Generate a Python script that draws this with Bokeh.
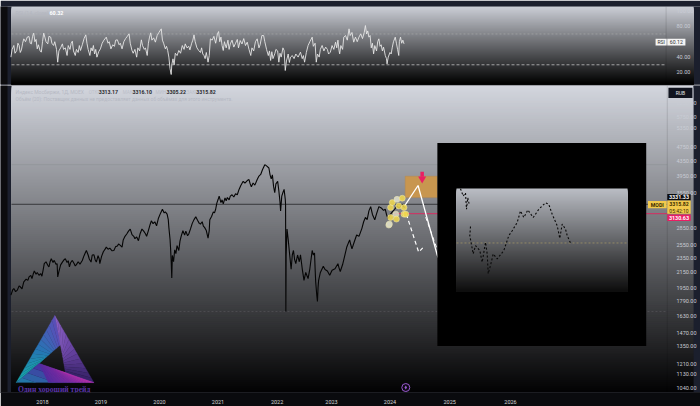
from bokeh.plotting import figure
from bokeh.layouts import column
from bokeh.models import Range1d, LinearScale, FixedTicker, NumeralTickFormatter, Label
from bokeh.embed import file_html
from bokeh.resources import INLINE
import numpy as np

# ---------- data ----------
rsi_years = [2017.46,2017.48,2017.51,2017.53,2017.56,2017.58,2017.60,2017.62,2017.64,2017.66,2017.68,2017.71,2017.74,2017.77,2017.79,2017.81,2017.83,2017.85,2017.87,2017.89,2017.91,2017.93,2017.96,2017.98,
2018.00,2018.02,2018.04,2018.06,2018.09,2018.11,2018.14,2018.16,2018.19,2018.21,2018.24,2018.26,2018.28,2018.31,2018.34,2018.36,2018.39,2018.42,2018.44,2018.47,2018.49,2018.51,2018.53,2018.56,2018.58,2018.61,2018.63,2018.65,2018.68,2018.71,2018.74,2018.76,2018.78,2018.81,2018.83,2018.85,2018.87,2018.89,2018.91,2018.93,2018.96,2018.99,
2019.02,2019.05,2019.09,2019.12,2019.14,2019.17,2019.20,2019.23,2019.25,2019.28,2019.31,2019.33,2019.36,2019.39,2019.42,2019.45,2019.48,2019.50,2019.53,2019.55,2019.58,2019.61,2019.63,2019.66,2019.69,2019.71,2019.74,2019.76,2019.79,2019.81,2019.83,2019.85,2019.87,2019.90,2019.93,2019.96,2019.99,
2020.03,2020.05,2020.07,2020.10,2020.12,2020.14,2020.16,2020.18,2020.20,2020.21,2020.23,2020.25,2020.27,2020.30,2020.33,2020.36,2020.39,2020.42,2020.44,2020.47,2020.50,2020.52,2020.55,2020.57,2020.59,2020.61,2020.64,2020.67,2020.70,2020.72,2020.74,2020.76,2020.78,2020.80,2020.83,2020.85,2020.87,2020.90,2020.93,2020.96,2020.99,
2021.01,2021.03,2021.05,2021.07,2021.09,2021.11,2021.14,2021.17,2021.19,2021.21,2021.24,2021.27,2021.30,2021.33,2021.35,2021.38,2021.41,2021.44,2021.47,2021.50,2021.53,2021.56,2021.58,2021.61,2021.64,2021.67,2021.70,2021.72,2021.75,2021.78,2021.80,2021.83,2021.86,2021.88,2021.90,2021.92,2021.94,2021.97,2021.99,
2022.02,2022.04,2022.06,2022.08,2022.11,2022.13,2022.15,2022.17,2022.20,2022.22,2022.24,2022.27,2022.30,2022.33,2022.37,2022.41,2022.44,2022.46,2022.48,2022.51,2022.54,2022.57,2022.61,2022.63,2022.66,2022.68,2022.70,2022.73,2022.75,2022.78,2022.81,2022.84,2022.87,2022.89,2022.92,2022.95,2022.98,
2023.01,2023.03,2023.05,2023.07,2023.08,2023.10,2023.13,2023.15,2023.18,2023.21,2023.24,2023.26,2023.29,2023.32,2023.35,2023.38,2023.41,2023.44,2023.47,2023.50,2023.52,2023.54,2023.56,2023.58,2023.60,2023.62,2023.64,2023.66,2023.68,2023.71,2023.73,2023.75,2023.77,2023.79,2023.81,2023.83,2023.86,2023.88,2023.89,2023.91,2023.94,2023.96,2023.98,
2024.00,2024.03,2024.05,2024.07,2024.09,2024.10,2024.12,2024.14,2024.16,2024.18]
rsi_values = [39.9,50,55.1,45,48.6,58,55.1,46,49.4,58,63.7,60,66,66.7,58,57.2,67,71.1,60,63,50.7,56,48,46.4,
60,71.1,66,60,57.2,67,65.9,58,55.1,60,50,33.4,48,52,57.2,50,52,42.1,55,50,58,60.7,48,42.1,50,46,55,48.6,56,64,68.9,58,50,42.1,52,48,55.1,44,50,39.9,47,50.7,
58,62,65.9,58,60,50.7,56,54,62,62.4,56,58,50.7,60,64,67,70.2,58,48.6,45,50,39.9,52,48,62.4,55,50,52,42.1,58,66,71.5,62,65,59.4,68,72,
76.7,62,58,50.7,54,48.6,40,25,17.4,30,37.7,30,45,42,48.6,45,55,50,57.2,52,54,49.4,58,62,68.9,60,52,48.6,46,52,44,42.1,38,46,33.4,42,63.7,62,67,58,70,
73.2,60,66,55,48.6,60,52,62,50,57.2,62,53,58,63,52,61.5,57,64,55,59.4,50,42.1,52,48,60,63.7,52,56,68,68.0,60,50,42,48,35.6,47,38,44.2,50,
48,33.4,45,40,52,48.6,22.6,35,44,33,39.9,42,38,44,40,46.4,38,42,33.4,46,55,60,65.9,54,58,33.4,44,40,50,55.1,48,53,50,44,46.4,55,50,
59.4,52,62,48,44.2,55,50,65.9,68,62,76.7,68,72,59.4,66,60,66,70.2,64,72,81,70,74,65.9,68,52,58,44.2,55,48,60,63.7,54,56,48,52.9,42,38,31.2,40,46,44,52.9,
60,65.9,58,50,42.1,60,65.9,58,62,57.2]

price_years = [2017.46,2017.49,2017.51,2017.54,2017.57,2017.60,2017.62,2017.65,2017.68,2017.72,2017.75,2017.77,2017.80,2017.82,2017.84,2017.86,2017.89,2017.91,2017.94,2017.97,2017.99,
2018.01,2018.03,2018.06,2018.09,2018.11,2018.13,2018.15,2018.18,2018.20,2018.23,2018.25,2018.26,2018.28,2018.31,2018.34,2018.37,2018.39,2018.42,2018.44,2018.46,2018.48,2018.51,2018.54,2018.56,2018.58,2018.61,2018.64,2018.68,2018.71,2018.73,2018.75,2018.78,2018.80,2018.83,2018.85,2018.88,2018.90,2018.92,2018.95,2018.97,2018.98,
2019.01,2019.04,2019.07,2019.09,2019.12,2019.15,2019.19,2019.22,2019.25,2019.28,2019.30,2019.33,2019.36,2019.38,2019.41,2019.44,2019.47,2019.50,2019.53,2019.56,2019.58,2019.61,2019.64,2019.67,2019.70,2019.73,2019.76,2019.78,2019.81,2019.84,2019.86,2019.89,2019.92,2019.95,2019.98,
2020.02,2020.05,2020.08,2020.10,2020.13,2020.15,2020.16,2020.18,2020.19,2020.20,2020.21,2020.22,2020.24,2020.26,2020.28,2020.30,2020.33,2020.35,2020.37,2020.40,2020.43,2020.45,2020.48,2020.50,2020.53,2020.56,2020.59,2020.62,2020.65,2020.68,2020.70,2020.73,2020.75,2020.77,2020.80,2020.83,2020.85,2020.86,2020.89,2020.92,2020.94,2020.96,2020.98,
2021.00,2021.02,2021.05,2021.07,2021.09,2021.12,2021.14,2021.16,2021.19,2021.21,2021.24,2021.27,2021.30,2021.33,2021.36,2021.39,2021.43,2021.46,2021.50,2021.53,2021.55,2021.57,2021.60,2021.63,2021.67,2021.70,2021.73,2021.76,2021.80,2021.83,2021.87,2021.89,2021.91,2021.93,2021.95,2021.97,2021.99,
2022.02,2022.04,2022.06,2022.07,2022.09,2022.11,2022.13,2022.15,2022.155,2022.16,2022.165,2022.18,2022.20,2022.22,2022.25,2022.27,2022.29,2022.31,2022.33,2022.36,2022.39,2022.41,2022.44,2022.47,2022.50,2022.54,2022.57,2022.61,2022.63,2022.65,2022.66,2022.67,2022.69,2022.70,2022.71,2022.72,2022.75,2022.80,2022.83,2022.87,2022.91,2022.95,
2023.00,2023.05,2023.07,2023.09,2023.13,2023.17,2023.20,2023.25,2023.27,2023.29,2023.33,2023.37,2023.41,2023.46,2023.49,2023.52,2023.55,2023.58,2023.61,2023.64,2023.68,2023.71,2023.75,2023.79,2023.83,2023.86,2023.88,2023.91,2023.94,2023.98,
2024.02,2024.06,2024.10,2024.15,2024.17,2024.19]
price_values = [1863,1925,1943,1905,1923,1975,1964,1938,2025,2060,2045,2090,2110,2068,2125,2170,2125,2150,2112,2135,2100,
2180,2272,2300,2250,2226,2300,2343,2290,2320,2265,2272,2090,2160,2255,2295,2330,2343,2290,2315,2226,2285,2319,2275,2240,2259,2300,2265,2319,2390,2430,2470,2400,2340,2295,2400,2403,2330,2295,2390,2340,2272,
2380,2450,2490,2522,2490,2505,2465,2470,2530,2540,2574,2550,2522,2640,2700,2740,2790,2827,2730,2700,2660,2690,2627,2750,2827,2790,2745,2700,2800,2910,2978,2925,2960,2886,3020,
3130,3203,3130,3150,3105,3000,2857,2650,2495,2300,2077,2393,2300,2480,2420,2547,2470,2620,2700,2797,2720,2790,2710,2740,2830,2930,3000,3053,2990,2930,2917,2960,2880,2857,2800,2670,2800,2997,3060,3150,3130,3203,3330,
3400,3480,3340,3400,3315,3440,3380,3450,3400,3480,3510,3460,3530,3510,3630,3720,3820,3780,3840,3864,3760,3690,3780,3730,3864,3950,3990,4110,4244,4210,4156,3980,3880,3980,3700,3555,3760,
3820,3600,3350,3170,3480,3560,3630,3410,3300,1680,2393,2827,2650,2450,2193,2400,2470,2330,2272,2400,2300,2403,2200,2046,2150,2068,2200,2470,2400,2431,2200,2025,1850,1790,1950,2046,2150,2236,2190,2170,2112,2180,
2200,2272,2210,2163,2260,2403,2520,2640,2560,2495,2610,2723,2700,2840,2960,3042,3000,3170,3257,3100,2997,3110,3257,3230,3180,3203,3100,3010,3090,3150,
3203,3270,3220,3305,3260,3235]

inset_index = [4,6.7,9,10,11.3,12.7,float("nan"),14,13.3,16.7,19,23.3,25.7,29,30.7,31.7,34,36.7,40.7,47.3,52.3,55.7,60.7,64,67.3,71.3,76.7,82.3,89,92.3,95.7,100.7,103.3,105.7,109,110.7,114]
inset_level = [99.7,92.6,95.8,79.8,91,84.6,float("nan"),63.1,54.2,36.5,44.5,39.7,28.5,47.7,36.5,17.3,25.3,36.5,31.7,39.7,54.2,59,67,78.2,71.8,79.2,71.8,79.8,86.2,84.6,75,63.8,51.6,65.4,60.6,54.2,47.1]

forecast_years = [2024.19,2024.42,2024.75,2025.00]
forecast_prices = [3271,3721,2393,1950]
alt_years = [2024.22,2024.43,2024.50]
alt_prices = [3105,2444,2510]
alt2_years = [2024.55,2024.75]
alt2_prices = [3047,2480]
circle_years = [2023.92,2023.95,2023.98,2024.06,2024.15,2024.09,2024.18,2024.18,2024.21,2024.04,2023.95,2024.05,2023.93]
circle_prices = [2899,3239,3341,3410,3434,3271,3239,3105,3105,3105,3041,3010,2917]
circle_colors = ["#d9d9c4","#f2d94e","#f2d94e","#e2e2d0","#f2d94e","#f2d94e","#f2d94e","#f2d94e","#f2d94e","#d9d9c4","#f2d94e","#f2d94e","#d9d9c4"]

price_ticks = [6250,5750,5350,4750,4350,3950,3550,2850,2550,2350,2150,1950,1790,1630,1470,1350,1210,1130,1040]
rsi_ticks = [100,80,40,20]
year_ticks = [2018,2019,2020,2021,2022.01,2022.94,2023.94,2024.96,2026]
year_labels = ["2018","2019","2020","2021","2022","2023","2024","2025","2026"]

FONT = "Roboto"
X_START, X_END = 2017.282, 2029.248   # frame edges
PANEL_L, PANEL_R = 2017.47, 2029.13


def gradient(p, left, right, lo, hi, top_rgb, bot_rgb, n, x_name="default", y_name="default"):
    edges = np.linspace(hi, lo, n + 1)
    t = np.linspace(0, 1, n)
    cols = ["#%02x%02x%02x" % tuple(int(a + (b - a) * f) for a, b in zip(top_rgb, bot_rgb)) for f in t]
    p.quad(left=[left] * n, right=[right] * n, top=edges[:-1], bottom=[lo] * n, fill_color=cols,
           line_color=None, x_range_name=x_name, y_range_name=y_name)


def txt(p, x, y, s, color="#888888", size=5.2, align="left", style="normal", font=FONT, **kw):
    p.add_layout(Label(x=x, y=y, text=s, text_color=color, text_font_size=f"{size}px", text_align=align,
                       text_baseline="middle", text_font_style=style, text_font=font, **kw))


def ramp(stops, f):
    pos = np.linspace(0, 1, len(stops))
    return "#%02x%02x%02x" % tuple(int(np.interp(f, pos, [s[i] for s in stops])) for i in range(3))


def logo_face(p, a0, a1, b0, b1, stops, n=14):
    """Fills the face between edge a0-a1 and edge b0-b1 with a colour ramp."""
    for i in range(n):
        f0, f1 = i / n, (i + 1) / n
        pts = [(a0, a1, f0), (a0, a1, f1), (b0, b1, f1), (b0, b1, f0)]
        xs = [s[0] + (e[0] - s[0]) * f for s, e, f in pts]
        ys = [np.exp(np.log(s[1]) + (np.log(e[1]) - np.log(s[1])) * f) for s, e, f in pts]
        c = ramp(stops, (f0 + f1) / 2)
        p.patch(xs, ys, fill_color=c, line_color=c, line_width=0.3)


# ---------- RSI pane ----------
r = figure(width=700, height=85, output_backend="svg", toolbar_location=None, x_axis_location=None,
           y_axis_location="right", x_range=Range1d(X_START, X_END), y_range=Range1d(4.4, 105.7),
           min_border_left=0, min_border_right=0, min_border_top=6, min_border_bottom=1,
           background_fill_color="#1b1f2d", border_fill_color="#1b1f2d", outline_line_color=None, margin=0)
r.grid.visible = False
r.extra_y_ranges["frac"] = Range1d(0, 1)
r.extra_y_scales["frac"] = LinearScale()
gradient(r, PANEL_L, PANEL_R, 0, 1, (203, 206, 214), (0, 0, 0), 78, y_name="frac")
r.quad(left=[X_START], right=[2017.402], top=[105.7], bottom=[4.4], fill_color="#0c0c0e", line_color=None)
r.segment([2028.66], [4.4], [2028.66], [105.7], line_color="#000000", line_alpha=0.12)
r.segment([PANEL_L], [70], [2028.66], [70], line_color="#ffffff", line_alpha=0.2, line_dash="2 2")
r.segment([PANEL_L], [30], [2028.66], [30], line_color="#ffffff", line_alpha=0.55, line_dash="3 2")
r.line(rsi_years, rsi_values, line_color="#e6e6e6", line_width=0.9)
r.quad(left=[2028.48, 2028.68], right=[2028.67, 2028.99], top=[63.8, 63.8], bottom=[55.1, 55.1],
       fill_color="#f4f4f4", line_color=None)
ra = r.yaxis[0]
ra.ticker = FixedTicker(ticks=rsi_ticks)
ra.formatter = NumeralTickFormatter(format="0.00")
ra.major_tick_line_color = None
ra.minor_tick_line_color = None
ra.axis_line_color = None
ra.major_label_standoff = -30
ra.major_label_text_font = FONT
ra.major_label_text_font_size = "5.5px"
ra.major_label_text_color = "#c9ccd4"
txt(r, 2017.47, 109.6, "Haobra_dem опубликовал(а) на TradingView.com, Мар 29, 2024 18:57 UTC+8", "#aeb2bc", 5.6)
txt(r, 2017.54, 97.9, "RSI (14, close)", "#b4b7c0", 5.2)
txt(r, 2018.12, 97.9, "60.32", "#ffffff", 5.4, style="bold")
txt(r, 2028.575, 59.4, "RSI", "#333333", 5, "center")
txt(r, 2028.835, 59.4, "60.12", "#333333", 5.2, "center")

# ---------- main pane ----------
p = figure(width=700, height=321, output_backend="svg", toolbar_location=None, y_axis_type="log",
           y_axis_location="right", x_range=Range1d(X_START, X_END), y_range=Range1d(1008, 6993),
           min_border_left=0, min_border_right=0, min_border_top=0, min_border_bottom=11,
           background_fill_color="#1b1f2d", border_fill_color="#0a0b0e", outline_line_color=None, margin=0)
p.grid.visible = False
p.extra_y_ranges["frac"] = Range1d(0, 1)
p.extra_y_scales["frac"] = LinearScale()
p.extra_x_ranges["inset_x"] = Range1d(-456, 244)
p.extra_x_scales["inset_x"] = LinearScale()
p.extra_y_ranges["inset_y"] = Range1d(-98.08, 200)
p.extra_y_scales["inset_y"] = LinearScale()

gradient(p, PANEL_L, PANEL_R, 0, 1, (211, 214, 222), (3, 3, 4), 155, y_name="frac")
p.quad(left=[X_START], right=[2017.402], top=[6993], bottom=[1008], fill_color="#0c0c0e", line_color=None)
p.segment([2028.68], [1008], [2028.68], [6993], line_color="#000000", line_alpha=0.12)

# grid-like price levels
p.segment([PANEL_L], [4244], [2028.68], [4244], line_color="#000000", line_alpha=0.06)
p.segment([PANEL_L], [1680], [2028.68], [1680], line_color="#ffffff", line_alpha=0.1, line_dash="2 2")
p.segment([PANEL_L], [3305], [2028.68], [3305], line_color="#2a2a2c", line_width=1, line_alpha=0.85)
p.segment([2024.0], [3115], [2028.68], [3115], line_color="#e0245e", line_width=1, line_alpha=0.9)

p.line(price_years, price_values, line_color="#050505", line_width=1.1)

# target zone
p.quad(left=[2024.2], right=[2024.75], top=[3945], bottom=[3447], fill_color="#c8964f", line_color="#b58a50", line_width=0.5)
p.segment([2024.49], [4061], [2024.49], [3930], line_color="#e91e63", line_width=3.5)
p.scatter([2024.49], [3880], marker="inverted_triangle", size=8, fill_color="#e91e63", line_color=None)

p.line(forecast_years, forecast_prices, line_color="#ffffff", line_width=1.3)
p.line(alt_years, alt_prices, line_color="#ffffff", line_width=1.2, line_dash="4 3")
p.line(alt2_years, alt2_prices, line_color="#ffffff", line_width=1, line_dash="4 3")
p.scatter(circle_years, circle_prices, marker="circle", size=6, fill_color=circle_colors, fill_alpha=0.85,
          line_color="#efe9b0", line_width=0.5)

# inset
p.quad(left=[2024.75], right=[2028.32], top=[4868], bottom=[1352], fill_color="#000000", line_color=None)
ie = np.linspace(100, 0, 105)
ic = ["#%02x%02x%02x" % (int(186 - 172 * f), int(189 - 175 * f), int(196 - 182 * f)) for f in np.linspace(0, 1, 104)]
p.quad(left=[0] * 104, right=[171] * 104, top=ie[:-1], bottom=[0] * 104, fill_color=ic, line_color=None,
       x_range_name="inset_x", y_range_name="inset_y")
p.segment([0], [47.1], [171], [47.1], line_color="#c9b26a", line_alpha=0.7, line_dash="2 2", line_width=0.7,
          x_range_name="inset_x", y_range_name="inset_y")
p.line(inset_index, inset_level, line_color="#0a0a0a", line_width=1.1, line_dash="2 2",
       x_range_name="inset_x", y_range_name="inset_y")

# logo
APEX, BL, BR = (2018.21, 1638), (2017.55, 1073), (2018.88, 1073)
IN_TOP, IN_LEFT, IN_RIGHT = (2018.31, 1363), (2017.94, 1211), (2018.39, 1142)
logo_face(p, BL, APEX, IN_LEFT, IN_TOP, [(23, 168, 170), (38, 118, 180), (92, 76, 184)])
logo_face(p, APEX, BR, IN_TOP, IN_RIGHT, [(138, 96, 198), (102, 66, 160), (52, 32, 100)])
logo_face(p, BL, IN_LEFT, BL, BR, [(30, 130, 170), (74, 44, 160)], n=4)
logo_face(p, IN_LEFT, IN_RIGHT, (2018.1, 1073), BR, [(84, 42, 158), (124, 42, 160), (190, 48, 170)])

# lightning marker
p.scatter([2024.21], [1040], marker="circle", size=8, fill_color="#0d0a14", line_color="#9b59d0", line_width=1)
p.scatter([2024.21], [1040], marker="diamond", size=4, fill_color="#9b59d0", line_color=None)

# price tags
p.quad(left=[2028.35], right=[2028.67], top=[3375], bottom=[3224], fill_color="#f2c94c", line_color=None)
p.quad(left=[2028.68], right=[2029.08], top=[3525], bottom=[3383], fill_color="#0b0b0d", line_color=None)
p.quad(left=[2028.68], right=[2029.08], top=[3383], bottom=[3115], fill_color="#f2c94c", line_color=None)
p.quad(left=[2028.68], right=[2029.08], top=[3100], bottom=[2972], fill_color="#e91e63", line_color=None)
p.quad(left=[2028.70], right=[2029.11], top=[6898], bottom=[6463], fill_color="#11141f", line_color=None)
# right edge band
p.quad(left=[PANEL_R], right=[X_END], top=[6993], bottom=[1008], fill_color="#1b1f2d", line_color=None)

ax = p.yaxis[0]
ax.ticker = FixedTicker(ticks=price_ticks)
ax.formatter = NumeralTickFormatter(format="0.00")
ax.major_tick_line_color = None
ax.minor_tick_line_color = None
ax.axis_line_color = None
ax.major_label_standoff = -30
ax.major_label_text_font = FONT
ax.major_label_text_font_size = "5.5px"
ax.major_label_text_color = "#c9ccd4"

bx = p.xaxis[0]
bx.ticker = FixedTicker(ticks=year_ticks)
bx.major_label_overrides = dict(zip(year_ticks, year_labels))
bx.major_tick_line_color = None
bx.minor_tick_line_color = None
bx.axis_line_color = "#1c1d22"
bx.major_label_standoff = 1
bx.major_label_text_font = FONT
bx.major_label_text_font_size = "5.5px"
bx.major_label_text_color = "#d6d6d6"

# legend texts
txt(p, 2017.54, 6697, "Индекс Мосбиржи, 1Д, MOEX", "#b6b9c3", 5)
for x, s in zip([2018.79, 2019.37, 2019.93, 2020.46], ["ОТКР", "МАКС", "МИН", "ЗАКР"]):
    txt(p, x, 6697, s, "#bcbfc9", 4.6)
for x, s in zip([2018.96, 2019.54, 2020.12, 2020.63], ["3313.17", "3316.10", "3305.22", "3315.82"]):
    txt(p, x, 6697, s, "#2a2a2e", 5.2, style="bold")
txt(p, 2017.54, 6412, "Объём (20): Поставщик данных не предоставляет данных об объёмах для этого инструмента.", "#b6b9c3", 4.9)
txt(p, 2028.905, 6680, "RUB", "#e6e6e6", 5, "center")
txt(p, 2028.51, 3300, "MODI", "#3a2c00", 5.2, "center", "bold")
txt(p, 2028.88, 3450, "3331.33", "#ffffff", 5.4, "center", "bold")
txt(p, 2028.88, 3305, "3315.82", "#3a2c00", 5.2, "center", "bold")
txt(p, 2028.88, 3170, "05:42:10", "#3a2c00", 5, "center")
txt(p, 2028.88, 3035, "3130.63", "#ffffff", 5.4, "center", "bold")
txt(p, 2017.58, 1030, "Один хороший трейд", "#5a35a8", 7.6, style="bold", font="Liberation Serif")

page = column(r, p, spacing=0, margin=0)
open("out.html", "w").write(file_html(page, INLINE))
